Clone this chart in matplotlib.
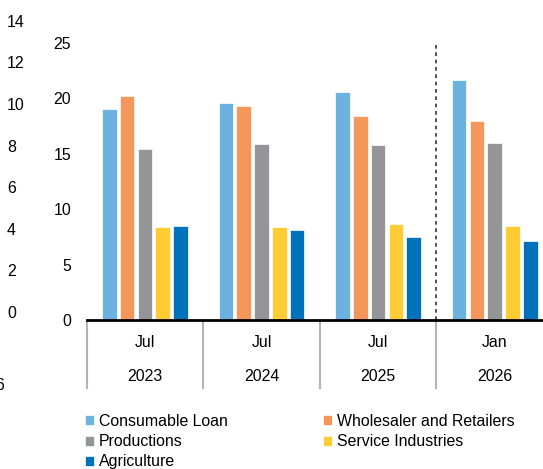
import numpy as np
import matplotlib.pyplot as plt
from matplotlib.lines import Line2D

plt.rcParams['font.family'] = ['Liberation Sans', 'DejaVu Sans']
plt.rcParams['font.size'] = 11.4

# 数据
months = ['Jul', 'Jul', 'Jul', 'Jan']
years = ['2023', '2024', '2025', '2026']
series_names = ['Consumable Loan', 'Wholesaler and Retailers', 'Productions',
                'Service Industries', 'Agriculture']
consumable_loan = [19.0, 19.6, 20.6, 21.7]
wholesaler = [20.2, 19.35, 18.45, 18.0]
productions = [15.4, 15.85, 15.8, 15.95]
service = [8.35, 8.4, 8.7, 8.5]
agriculture = [8.5, 8.1, 7.45, 7.15]
left_axis_ticks = [0, 2, 4, 6, 8, 10, 12, 14]

colors = ['#6cb2e0', '#f5975a', '#939598', '#ffcc33', '#0071bb']
values = [consumable_loan, wholesaler, productions, service, agriculture]

W, H = 543, 469
fig = plt.figure(figsize=(W / 100, H / 100), dpi=100)

# 主坐标轴 (右侧超出画布)
ax = fig.add_axes([86.6 / W, (H - 320) / H, 466.4 / W, 277 / H])
x = np.arange(len(years))
pitch = 0.1527
width = 0.125
for i, (name, vals, c) in enumerate(zip(series_names, values, colors)):
    ax.bar(x + (i - 2) * pitch, vals, width, color=c, label=name,
           edgecolor='white', linewidth=0.5)

ax.set_xlim(-0.5, 3.5)
ax.set_ylim(0, 25)
ax.set_yticks([0, 5, 10, 15, 20, 25])
ax.tick_params(axis='y', length=0, pad=11.2)
ax.set_xticks([])
for s in ['top', 'right', 'left']:
    ax.spines[s].set_visible(False)
ax.spines['bottom'].set_linewidth(2)
ax.spines['bottom'].set_color('black')

# 分隔虚线
ax.vlines(2.5, 0, 24.8, colors='#333333', linestyles=(0, (2.2, 2.2)), linewidth=1.2)

# 两级x轴标签
trans = ax.get_xaxis_transform()
for xb in np.arange(-0.5, 4.0, 1.0):
    ax.add_line(Line2D([xb, xb], [-0.008, -0.244], transform=trans,
                       color='#b4b4b8', linewidth=1.5, clip_on=False))
for i in range(len(years)):
    ax.text(x[i], -0.08, months[i], transform=trans, ha='center', va='center')
    ax.text(x[i], -0.203, years[i], transform=trans, ha='center', va='center')

# 左侧另一组刻度
ax0 = fig.add_axes([7 / W, (H - 312) / H, 0.0001, 291.3 / H])
ax0.set_ylim(0, 14)
ax0.set_yticks(left_axis_ticks)
ax0.yaxis.set_ticks_position('right')
ax0.tick_params(axis='y', length=0, pad=0)
ax0.set_xticks([])
for s in ax0.spines.values():
    s.set_visible(False)
ax0.patch.set_visible(False)
fig.text(4.5 / W, (H - 385) / H, '6', ha='right', va='center')

# 图例
h, l = ax.get_legend_handles_labels()
order = [0, 2, 4, 1, 3]
fig.legend([h[k] for k in order], [l[k] for k in order], ncol=2,
           loc='upper left', bbox_to_anchor=(84.8 / W, (H - 414) / H),
           frameon=False, handlelength=0.6, handleheight=0.6,
           handletextpad=0.3, columnspacing=6.0, labelspacing=0.33,
           borderpad=0, borderaxespad=0)

fig.savefig('out.png', dpi=100)
